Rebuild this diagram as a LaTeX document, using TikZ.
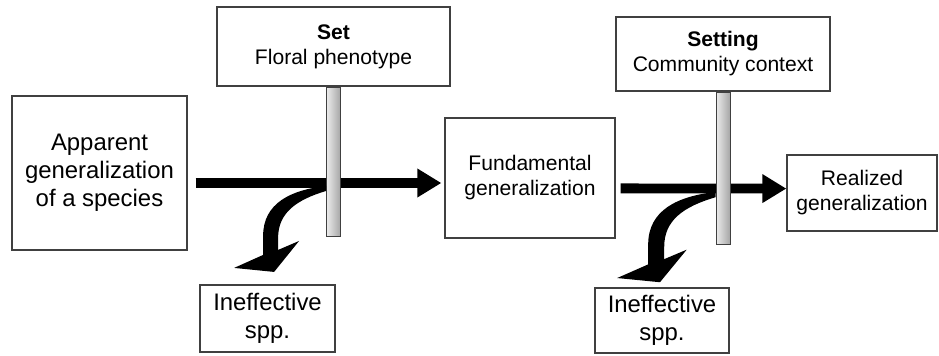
\documentclass[tikz,border=0pt]{standalone}
\usepackage{fontspec}
\setmainfont{Liberation Sans}
\usetikzlibrary{positioning, arrows.meta}

\begin{document}
\begin{tikzpicture}[
    % Estilos das caixas, postes e setas
    boxnode/.style={rectangle, draw=black!75, line width=0.9pt, align=center, inner sep=0pt, fill=white},
    bigtext/.style={font=\fontsize{17}{20}\selectfont},
    smalltext/.style={font=\fontsize{15}{17.8}\selectfont},
    polenode/.style={rectangle, draw=black!75, line width=0.6pt, minimum width=0.35cm, inner sep=0pt, shading=axis, left color=gray!15, right color=gray!70},
    flowArrow/.style={line width=7pt, -{Triangle[length=0.6cm, width=0.68cm]}},
    swoosh/.pic={
        \fill[x=0.025cm, y=-0.025cm] (0,-2) .. controls (-35,2) and (-63,15) .. (-63,48)
            -- (-63,67) -- (-92,80) -- (-52,84) -- (-27,53) -- (-48,62) -- (-48,50)
            .. controls (-48,25) and (-30,12) .. (0,3) -- cycle;
    }
]
\useasboundingbox (0,0) rectangle (23.475,-8.9);

% ==========================
% CAIXAS PRINCIPAIS
% ==========================
\node[boxnode, bigtext, minimum width=4.375cm, minimum height=3.85cm] (app) at (2.4875,-4.325) {Apparent\\generalization\\of a species};
\node[boxnode, smalltext, minimum width=4.25cm, minimum height=3.0cm] (fund) at (13.25,-4.45) {Fundamental\\generalization};
\node[boxnode, smalltext, minimum width=3.75cm, minimum height=1.9cm] (real) at (21.55,-4.825) {Realized\\generalization};

% filtros (placas)
\node[boxnode, smalltext, minimum width=5.825cm, minimum height=1.975cm] (set) at (8.3375,-1.1625) {\textbf{Set}\\Floral phenotype};
\node[boxnode, smalltext, minimum width=5.35cm, minimum height=1.85cm] (setting) at (18.075,-1.35) {\textbf{Setting}\\Community context};

% especies descartadas
\node[boxnode, bigtext, minimum width=3.375cm, minimum height=1.675cm] (ineff1) at (6.6875,-7.9625) {Ineffective\\spp.};
\node[boxnode, bigtext, minimum width=3.35cm, minimum height=1.625cm] (ineff2) at (16.55,-8.0125) {Ineffective\\spp.};

% ==========================
% SETAS DE FLUXO
% ==========================
\draw[flowArrow] ([shift={(0.2cm,-0.25cm)}]app.east) -- ([shift={(-0.075cm,-0.125cm)}]fund.west);
\draw[flowArrow] ([shift={(0.125cm,-0.26cm)}]fund.east) -- ([shift={(0cm,0.11cm)}]real.west);

% ==========================
% POSTES E DESVIOS
% ==========================
\node[polenode, minimum height=3.725cm, below=0pt of set] (pole1) {};
\node[polenode, minimum height=3.8cm, below=0pt of setting] (pole2) {};

\pic at ([yshift=-0.66cm]pole1.west) {swoosh};
\pic[xscale=1.07, yscale=1.05] at ([yshift=-0.65cm]pole2.west) {swoosh};

\end{tikzpicture}
\end{document}
